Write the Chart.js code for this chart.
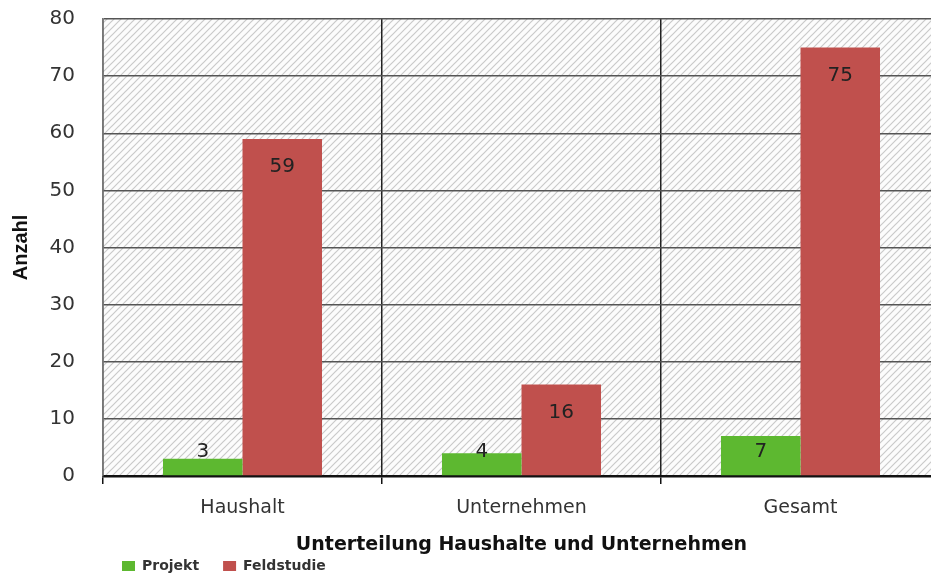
<!DOCTYPE html>
<html lang="de">
<head>
<meta charset="UTF-8">
<title>Unterteilung Haushalte und Unternehmen</title>
<script src="https://cdn.jsdelivr.net/npm/chart.js@4"></script>
<style>
    html, body { margin: 0; padding: 0; background: #fff; overflow: hidden; }
    #wrap { width: 945px; height: 575px; }
</style>
</head>
<body>
<div id="wrap"><canvas id="myChart" width="945" height="575"></canvas></div>
<script>
    // Daten
    var kategorien = ['Haushalt', 'Unternehmen', 'Gesamt']
    var projekt = [3, 4, 7]
    var feldstudie = [59, 16, 75]
    var yTicks = [0, 10, 20, 30, 40, 50, 60, 70, 80]

    var fontText = "'DejaVu Sans', Verdana, sans-serif"

    // schraffierter Hintergrund der Zeichenfläche
    function schraffur() {
        var c = document.createElement('canvas')
        c.width = 7
        c.height = 7
        var g = c.getContext('2d')
        g.fillStyle = '#fcfcfc'
        g.fillRect(0, 0, 7, 7)
        g.strokeStyle = '#cacaca'
        g.lineWidth = 1.2
        g.beginPath()
        g.moveTo(-1, 8); g.lineTo(8, -1)
        g.moveTo(-4, 4); g.lineTo(4, -4)
        g.moveTo(3, 11); g.lineTo(11, 3)
        g.stroke()
        return c
    }

    const hintergrund = {
        id: 'hintergrund',
        beforeDraw(chart) {
            const a = chart.chartArea
            const ctx = chart.ctx
            ctx.save()
            ctx.fillStyle = ctx.createPattern(schraffur(), 'repeat')
            ctx.fillRect(a.left, a.top, a.right - a.left, a.bottom - a.top)
            ctx.restore()
        }
    }

    // Werte innen oben in den Balken
    const werte = {
        id: 'werte',
        afterDatasetsDraw(chart) {
            const ctx = chart.ctx
            const null_y = chart.scales.y.getPixelForValue(0)
            ctx.save()
            ctx.font = '20px ' + fontText
            ctx.fillStyle = '#222'
            ctx.textAlign = 'center'
            ctx.textBaseline = 'middle'
            chart.data.datasets.forEach(function (ds, i) {
                chart.getDatasetMeta(i).data.forEach(function (bar, j) {
                    var y = Math.min(bar.y + 28, null_y - 24)
                    ctx.fillText(ds.data[j], bar.x, y)
                })
            })
            ctx.restore()
        }
    }

    // Legende nach rechts und unten schieben
    const legendePos = {
        id: 'legendePos',
        afterLayout(chart) {
            chart.legend.left = 98
            chart.legend.top = 535
        }
    }

    const dados = {
        labels: kategorien,
        datasets: [{
            label: 'Projekt',
            data: projekt,
            backgroundColor: '#5db830',
            borderWidth: 0
        }, {
            label: 'Feldstudie',
            data: feldstudie,
            backgroundColor: '#c0504d',
            borderWidth: 0
        }]
    }

    const config = {
        type: 'bar',
        data: dados,
        options: {
            responsive: false,
            animation: false,
            layout: { padding: { top: 19, right: 5, left: 0, bottom: 0 } },
            datasets: {
                bar: { categoryPercentage: 0.57, barPercentage: 1.0 }
            },
            plugins: {
                legend: {
                    position: 'bottom',
                    align: 'start',
                    maxHeight: 20,
                    labels: {
                        boxWidth: 13,
                        boxHeight: 10,
                        padding: 24,
                        color: '#333',
                        font: { family: fontText, size: 14, weight: 'bold' }
                    }
                },
                tooltip: { enabled: false }
            },
            scales: {
                x: {
                    afterFit(scale) {
                        scale.height = 79
                        scale.paddingLeft = 0
                        scale.paddingRight = 0
                    },
                    grid: {
                        offset: true,
                        color: '#222',
                        lineWidth: 1.5,
                        drawOnChartArea: true,
                        drawTicks: true,
                        tickLength: 8,
                        tickColor: '#111'
                    },
                    border: { color: '#111', width: 2.5 },
                    ticks: {
                        color: '#333',
                        padding: 13,
                        font: { family: fontText, size: 19 }
                    },
                    title: {
                        display: true,
                        text: 'Unterteilung Haushalte und Unternehmen',
                        color: '#111',
                        font: { family: fontText, size: 19, weight: 'bold' },
                        padding: { top: 0, bottom: -1 }
                    }
                },
                y: {
                    min: 0,
                    max: 80,
                    afterBuildTicks(scale) {
                        scale.ticks = yTicks.map(function (v) { return { value: v } })
                    },
                    afterFit(scale) {
                        scale.width = 103
                        scale.paddingTop = 0
                        scale.paddingBottom = 0
                    },
                    grid: {
                        color: '#555',
                        lineWidth: 1.5,
                        drawTicks: false
                    },
                    border: { color: '#777', width: 1.5 },
                    ticks: {
                        color: '#333',
                        padding: 28,
                        font: { family: fontText, size: 20 }
                    },
                    title: {
                        display: true,
                        text: 'Anzahl',
                        color: '#111',
                        font: { family: "'Liberation Sans Narrow', 'Liberation Sans', Arial, sans-serif", size: 20, weight: 'bold' },
                        padding: { top: 9, bottom: 0 }
                    }
                }
            }
        },
        plugins: [hintergrund, werte, legendePos]
    }

    let myChart = new Chart(document.getElementById('myChart'), config)
</script>
</body>
</html>
